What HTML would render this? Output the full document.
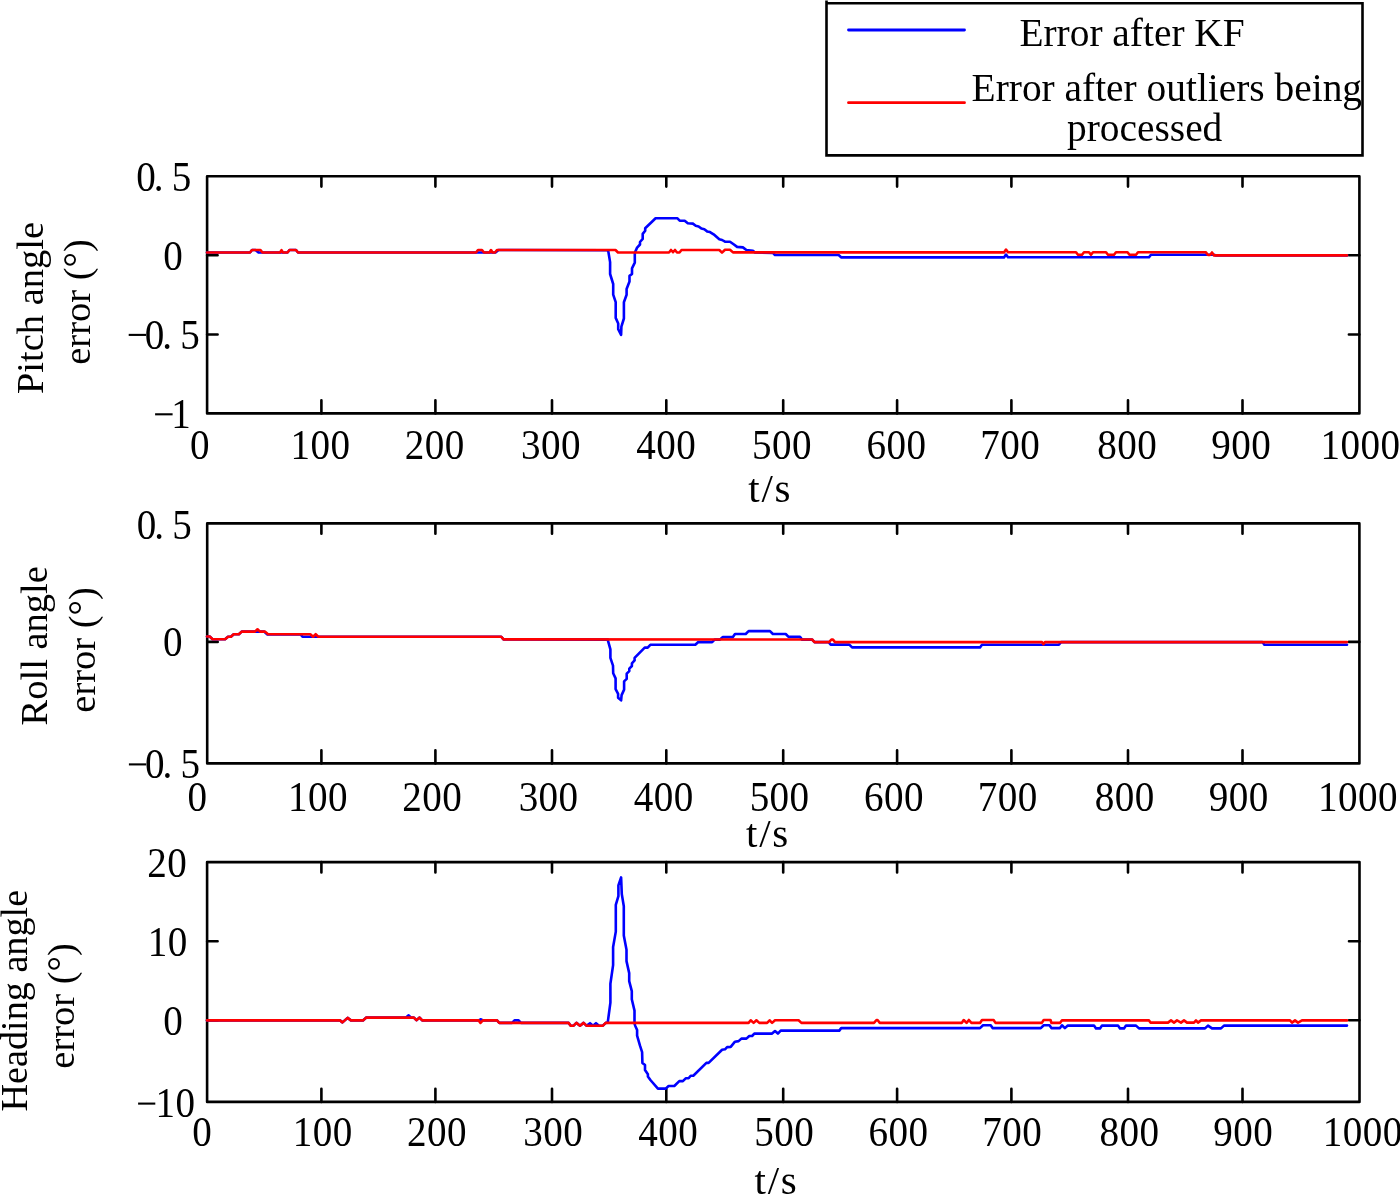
<!DOCTYPE html>
<html><head><meta charset="utf-8"><title>Attitude angle errors</title>
<style>html,body{margin:0;padding:0;background:#fff;}svg{display:block;will-change:transform;}text{font-family:"Liberation Serif",serif;fill:#000;}</style></head><body>
<svg width="1400" height="1196" viewBox="0 0 1400 1196">
<rect width="1400" height="1196" fill="#fff"/>
<path d="M321.4,413.4V400.2M321.4,176.3V186.6M435.4,413.4V400.2M435.4,176.3V186.6M552,413.4V400.2M552,176.3V186.6M666.3,413.4V400.2M666.3,176.3V186.6M783.2,413.4V400.2M783.2,176.3V186.6M897.1,413.4V400.2M897.1,176.3V186.6M1011.4,413.4V400.2M1011.4,176.3V186.6M1128,413.4V400.2M1128,176.3V186.6M1242.5,413.4V400.2M1242.5,176.3V186.6M207.1,255.3H217.6M1359.4,255.3H1348.9M207.1,334.5H217.6M1359.4,334.5H1348.9" stroke="#000" stroke-width="2.6" stroke-linecap="round" fill="none"/>
<rect x="207.1" y="176.3" width="1152.3" height="237.1" fill="none" stroke="#000" stroke-width="2.6" stroke-linejoin="round"/>
<path d="M321.4,763.4V750.2M321.4,523.4V533.7M435.4,763.4V750.2M435.4,523.4V533.7M552,763.4V750.2M552,523.4V533.7M666.3,763.4V750.2M666.3,523.4V533.7M783.2,763.4V750.2M783.2,523.4V533.7M897.1,763.4V750.2M897.1,523.4V533.7M1011.4,763.4V750.2M1011.4,523.4V533.7M1128,763.4V750.2M1128,523.4V533.7M1242.5,763.4V750.2M1242.5,523.4V533.7M207.2,641.9H217.7M1359.4,641.9H1348.9" stroke="#000" stroke-width="2.6" stroke-linecap="round" fill="none"/>
<rect x="207.2" y="523.4" width="1152.2" height="240" fill="none" stroke="#000" stroke-width="2.6" stroke-linejoin="round"/>
<path d="M321.4,1101.9V1088.7M321.4,862.1V872.4M435.4,1101.9V1088.7M435.4,862.1V872.4M552,1101.9V1088.7M552,862.1V872.4M666.3,1101.9V1088.7M666.3,862.1V872.4M783.2,1101.9V1088.7M783.2,862.1V872.4M897.1,1101.9V1088.7M897.1,862.1V872.4M1011.4,1101.9V1088.7M1011.4,862.1V872.4M1128,1101.9V1088.7M1128,862.1V872.4M1242.5,1101.9V1088.7M1242.5,862.1V872.4M207.1,941.2H217.6M1359.5,941.2H1349M207.1,1020.2H217.6M1359.5,1020.2H1349" stroke="#000" stroke-width="2.6" stroke-linecap="round" fill="none"/>
<rect x="207.1" y="862.1" width="1152.4" height="239.8" fill="none" stroke="#000" stroke-width="2.6" stroke-linejoin="round"/>
<g>
<path d="M207,252.5 L250,252.5 L252,250 L255.5,250 L258.5,252.5 L287.5,252.5 L289.5,250 L296,250 L298,252.5 L495.5,252.5 L498.5,250 L607,250.3 L608.2,250.8 L610.1,262.1 L610.1,274 L613.2,284 L613.2,294.7 L615.7,302.2 L615.7,317.9 L618.2,323.5 L618.2,329.2 L621.1,334.8 L621.4,326.6 L623.9,318.5 L623.9,302.2 L626.6,294.7 L626.6,289 L629.5,281.5 L629.5,275.9 L632,274 L632,268.3 L634.8,262.7 L634.8,252.7 L637.1,247.6 L640,244.5 L640,242 L642.7,238.9 L642.7,233.9 L645.2,230.7 L645.2,228.2 L655.6,218.2 L677.2,218.2 L679.7,220.7 L684.7,220.7 L687.8,223.2 L692.9,223.6 L695.7,225.7 L698.6,226.4 L701.4,228.6 L704.3,229.3 L707.1,231.4 L710,232.1 L713.6,234.3 L719.3,239.3 L722.1,240 L725,241.7 L730,241.7 L733.6,244.3 L737.1,246.9 L742.9,247.4 L746.4,250 L752.9,250.7 L755,252.5 L772.9,252.9 L775,255 L838.6,255 L841.4,257.4 L1004,257.4 L1006,254.5 L1008,257.3 L1149,257.3 L1151,254.7 L1214,254.7 L1216,255.4 L1347,255.4" fill="none" stroke="#0000ff" stroke-width="2.6" stroke-linejoin="round" stroke-linecap="round"/>
<path d="M207,252.5 L250,252.5 L252,250 L260.5,250 L262.5,252.5 L280,252.5 L281.5,250.2 L283,252.5 L287.5,252.5 L289.5,250 L296,250 L298,252.5 L476,252.5 L478,250 L482,250 L484,252.5 L489.5,252.5 L491,250 L492.5,252.5 L495,252.5 L497,250 L615.5,250 L618,252.5 L669,252.5 L671,250 L673,252.2 L675,250 L677,252.5 L679.5,252.5 L681.5,250 L719.3,250 L722,252.6 L725,249.7 L730,249.7 L733,252.4 L1004,252.4 L1006,249.5 L1008,252.2 L1076,252.2 L1078,254.8 L1082,254.8 L1084,252.2 L1089,252.2 L1091,254.8 L1093,252.2 L1106,252.2 L1108,254.8 L1114,254.8 L1116,252.2 L1127.5,252.2 L1129.5,254.8 L1136,254.8 L1138,252.2 L1205.7,252.2 L1208,255 L1210,255 L1212,252.5 L1214,255.4 L1347,255.4" fill="none" stroke="#ff0000" stroke-width="2.6" stroke-linejoin="round" stroke-linecap="round"/>
<path d="M207,636.5 L209.7,636.5 L212.6,639.2 L225.1,639.2 L228,636.7 L230.9,636.7 L233.7,634.2 L238.9,634.2 L241.7,631.6 L264,631.6 L267.4,634.4 L300.6,634.4 L302.5,636.7 L501.3,636.7 L503.5,639.4 L607.9,639.6 L607.9,640.3 L610.4,649.3 L610.4,657.9 L613,665.6 L613.2,673.3 L615.6,678.4 L615.6,689.1 L618.1,693.9 L618.1,697.7 L621.1,700.3 L621.6,695.1 L624.1,689.6 L624.1,681.4 L626.7,678.9 L626.7,673.7 L629.3,671.1 L629.3,668.6 L631.9,666 L631.9,663.4 L634.6,660.4 L634.6,657.9 L644.7,647.6 L647.7,647.6 L650.3,644.8 L695.3,644.8 L698.3,642 L712.1,642.1 L714.6,639.6 L720,639.6 L722.9,637.1 L732.9,637.1 L735,634 L745.7,634 L748.6,631.1 L770,631.1 L772.9,634 L785.7,634 L788.6,636.9 L800,636.9 L802.1,639.6 L812.1,639.6 L814.5,642.1 L828.6,642.1 L830.7,644.6 L849.3,644.6 L852.1,647.4 L980,647.4 L982,644.7 L1058.9,644.7 L1061,642.1 L1262.4,642.1 L1264.4,644.8 L1347,644.8" fill="none" stroke="#0000ff" stroke-width="2.6" stroke-linejoin="round" stroke-linecap="round"/>
<path d="M207,636.5 L209.7,636.5 L212.6,639.2 L225.1,639.2 L228,636.7 L230.9,636.7 L233.7,634.2 L238.9,634.2 L241.7,631.6 L254.9,631.6 L257.5,629.3 L260,631.6 L265.1,631.6 L268,634.2 L310.3,634.2 L313.1,636.7 L315.7,634.2 L318.3,636.7 L501.3,636.7 L503.5,639.4 L812.1,639.5 L814.5,642.1 L829,642.1 L831.4,639.6 L833,639.6 L835,642.1 L1042,642.1 L1043.4,644.2 L1045,642.1 L1347,642.1" fill="none" stroke="#ff0000" stroke-width="2.6" stroke-linejoin="round" stroke-linecap="round"/>
<path d="M207,1020.4 L339.9,1020.4 L342.5,1022.4 L347.6,1017.9 L350.9,1020.4 L363,1020.4 L366.3,1017.6 L406,1017.6 L408.7,1015.3 L411,1017.6 L413.9,1017.6 L416.4,1020.2 L419.6,1017.6 L422.2,1020.4 L478.6,1020.4 L481,1019.3 L483,1020.4 L497,1020.4 L499.3,1022.9 L512,1022.9 L514.5,1020.4 L518.6,1020.4 L521,1022.9 L568.6,1022.9 L570.7,1025.7 L573.6,1025.7 L576.4,1022.9 L580,1025.7 L583.6,1022.9 L586.4,1025.7 L590,1023.2 L593,1025.7 L596,1023.2 L599,1025.7 L602.9,1025.7 L605.7,1022.9 L607.7,1022.7 L610.4,1002.6 L610.4,983.8 L613.1,965.1 L613.1,947 L615.8,931.6 L615.8,904.8 L618.4,896.1 L618.4,885.4 L621.1,877.4 L621.8,894.1 L623.8,906.2 L623.8,935.6 L626.5,949.7 L626.5,961.1 L629.2,973.1 L629.2,981.2 L631.8,991.2 L631.8,999.2 L634.5,1010.6 L634.5,1023.6 L635.2,1025.7 L637.1,1030 L637.1,1035.7 L640,1045.7 L642.1,1052.1 L642.4,1062.9 L645,1065 L645,1070 L647.9,1074.3 L647.9,1076.4 L650.4,1080 L657.9,1088.6 L665.7,1088.6 L668.6,1086 L674.3,1086 L679.3,1081.1 L682.9,1081.1 L685.7,1078.3 L688.6,1078.3 L690.7,1075.7 L693.3,1075.7 L706.4,1062.9 L708.6,1062.9 L722.1,1049.7 L725,1049.3 L727.1,1047.1 L730.7,1046.9 L735,1041.7 L738.6,1041.1 L741.4,1038.6 L746.4,1038.6 L749.3,1036 L752.1,1036 L754.3,1033.6 L772.1,1033.6 L775,1031.1 L777.9,1033.6 L780.7,1030.6 L839.3,1030.6 L841.2,1028.1 L980,1028.1 L983,1025.3 L990.7,1025.3 L992.6,1028.1 L1040.8,1028.1 L1043.7,1025.3 L1049.5,1025.3 L1051.4,1028.1 L1060,1028.1 L1062,1025.3 L1064.9,1028.1 L1067.8,1025.5 L1094,1025.6 L1096,1028.4 L1100,1028.4 L1102,1025.6 L1118,1025.6 L1120,1028.4 L1124,1028.4 L1126,1025.6 L1136,1025.6 L1139,1028.4 L1205,1028.4 L1208,1025.6 L1212,1028.4 L1221,1028.4 L1224,1025.6 L1347,1025.6" fill="none" stroke="#0000ff" stroke-width="2.6" stroke-linejoin="round" stroke-linecap="round"/>
<path d="M207,1020.4 L339.9,1020.4 L342.5,1022.4 L347.6,1017.9 L350.9,1020.4 L363,1020.4 L366.3,1017.6 L413.9,1017.6 L416.4,1020.2 L419.6,1017.6 L422.2,1020.4 L478.6,1020.4 L480.5,1022.9 L482.9,1020.4 L497,1020.4 L499.3,1022.9 L568.6,1022.9 L570.7,1025.7 L573.6,1025.7 L576.4,1022.9 L580,1025.7 L583.6,1022.9 L586.4,1025.7 L602.9,1025.7 L605.7,1022.9 L748.6,1022.9 L750.7,1020.3 L753.6,1022.9 L756.4,1020.3 L759.3,1022.9 L767.1,1022.9 L769.6,1020.3 L772.1,1022.9 L775,1020.3 L798.6,1020.3 L801.4,1022.9 L874,1022.9 L876.5,1020 L877.5,1020 L879.8,1022.9 L961.8,1022.9 L963.7,1020 L966.6,1022.9 L968.9,1020 L971.4,1022.9 L980,1022.9 L982,1020 L993.6,1020 L995.5,1022.9 L1041.8,1022.9 L1043.7,1020 L1050.5,1020 L1051.4,1022.9 L1060,1022.9 L1062,1020.2 L1149,1020.4 L1150.5,1022.6 L1168,1022.6 L1171,1020.4 L1174,1022.6 L1177,1020.4 L1181,1022.6 L1184,1020.4 L1187,1022.6 L1194,1022.6 L1196,1020.4 L1198,1022.6 L1201,1020.4 L1290,1020.4 L1292,1022.6 L1295,1020.4 L1298,1022.6 L1302,1020.4 L1347,1020.4" fill="none" stroke="#ff0000" stroke-width="2.6" stroke-linejoin="round" stroke-linecap="round"/>
</g>
<g class="tl">
<text transform="scale(0.925 1)" x="205.38" y="458.9" font-size="42.3">0</text>
<text transform="scale(0.925 1)" x="314.03 335.65 357.27" y="458.9" font-size="42.3">100</text>
<text transform="scale(0.925 1)" x="437.55 459.17 480.79" y="458.9" font-size="42.3">200</text>
<text transform="scale(0.925 1)" x="563.38 585 606.63" y="458.9" font-size="42.3">300</text>
<text transform="scale(0.925 1)" x="687.74 709.36 730.98" y="458.9" font-size="42.3">400</text>
<text transform="scale(0.925 1)" x="813.11 834.73 856.36" y="458.9" font-size="42.3">500</text>
<text transform="scale(0.925 1)" x="936.68 958.3 979.92" y="458.9" font-size="42.3">600</text>
<text transform="scale(0.925 1)" x="1059.62 1081.25 1102.87" y="458.9" font-size="42.3">700</text>
<text transform="scale(0.925 1)" x="1186.25 1207.87 1229.49" y="458.9" font-size="42.3">800</text>
<text transform="scale(0.925 1)" x="1309.36 1330.98 1352.6" y="458.9" font-size="42.3">900</text>
<text transform="scale(0.925 1)" x="1427.54 1449.16 1470.78 1492.41" y="458.9" font-size="42.3">1000</text>
<text transform="scale(0.925 1)" x="202.68" y="811.1" font-size="42.3">0</text>
<text transform="scale(0.925 1)" x="311.32 332.95 354.57" y="811.1" font-size="42.3">100</text>
<text transform="scale(0.925 1)" x="434.84 456.46 478.09" y="811.1" font-size="42.3">200</text>
<text transform="scale(0.925 1)" x="560.68 582.3 603.92" y="811.1" font-size="42.3">300</text>
<text transform="scale(0.925 1)" x="685.03 706.66 728.28" y="811.1" font-size="42.3">400</text>
<text transform="scale(0.925 1)" x="810.41 832.03 853.65" y="811.1" font-size="42.3">500</text>
<text transform="scale(0.925 1)" x="933.98 955.6 977.22" y="811.1" font-size="42.3">600</text>
<text transform="scale(0.925 1)" x="1056.92 1078.54 1100.16" y="811.1" font-size="42.3">700</text>
<text transform="scale(0.925 1)" x="1183.55 1205.17 1226.79" y="811.1" font-size="42.3">800</text>
<text transform="scale(0.925 1)" x="1306.66 1328.28 1349.9" y="811.1" font-size="42.3">900</text>
<text transform="scale(0.925 1)" x="1424.84 1446.46 1468.08 1489.7" y="811.1" font-size="42.3">1000</text>
<text transform="scale(0.925 1)" x="207.76" y="1145.9" font-size="42.3">0</text>
<text transform="scale(0.925 1)" x="316.41 338.03 359.65" y="1145.9" font-size="42.3">100</text>
<text transform="scale(0.925 1)" x="439.92 461.55 483.17" y="1145.9" font-size="42.3">200</text>
<text transform="scale(0.925 1)" x="565.76 587.38 609" y="1145.9" font-size="42.3">300</text>
<text transform="scale(0.925 1)" x="690.12 711.74 733.36" y="1145.9" font-size="42.3">400</text>
<text transform="scale(0.925 1)" x="815.49 837.11 858.73" y="1145.9" font-size="42.3">500</text>
<text transform="scale(0.925 1)" x="939.06 960.68 982.3" y="1145.9" font-size="42.3">600</text>
<text transform="scale(0.925 1)" x="1062 1083.62 1105.25" y="1145.9" font-size="42.3">700</text>
<text transform="scale(0.925 1)" x="1188.63 1210.25 1231.87" y="1145.9" font-size="42.3">800</text>
<text transform="scale(0.925 1)" x="1311.74 1333.36 1354.98" y="1145.9" font-size="42.3">900</text>
<text transform="scale(0.925 1)" x="1429.92 1451.54 1473.16 1494.78" y="1145.9" font-size="42.3">1000</text>
</g>
<g class="tl">
<text transform="scale(0.925 1)" x="147.4 166.36 185.77" y="190.75" font-size="42.3">0.5</text>
<text transform="scale(0.925 1)" x="176.42" y="269.9" font-size="42.3">0</text>
<line x1="128.7" y1="334.9" x2="146" y2="334.9" stroke="#000" stroke-width="2.1"/>
<text transform="scale(0.925 1)" x="156.42 175.39 194.8" y="348.9" font-size="42.3">0.5</text>
<line x1="155.1" y1="414.3" x2="172.6" y2="414.3" stroke="#000" stroke-width="2.1"/>
<text transform="scale(0.925 1)" x="185.28" y="427.9" font-size="42.3">1</text>
<text transform="scale(0.925 1)" x="147.88 166.85 186.26" y="538.8" font-size="42.3">0.5</text>
<text transform="scale(0.925 1)" x="176.1" y="656.5" font-size="42.3">0</text>
<line x1="128.9" y1="764.4" x2="146.2" y2="764.4" stroke="#000" stroke-width="2.1"/>
<text transform="scale(0.925 1)" x="156.64 175.61 195.02" y="778.3" font-size="42.3">0.5</text>
<text transform="scale(0.925 1)" x="159.13 180.75" y="877.1" font-size="42.3">20</text>
<text transform="scale(0.925 1)" x="159.77 181.39" y="956.4" font-size="42.3">10</text>
<text transform="scale(0.925 1)" x="176.42" y="1035.1" font-size="42.3">0</text>
<line x1="138.1" y1="1103.6" x2="155.3" y2="1103.6" stroke="#000" stroke-width="2.1"/>
<text transform="scale(0.925 1)" x="168.09 189.71" y="1117.4" font-size="42.3">10</text>
</g>
<text x="748.3 761.5 774.5" y="502.4" font-size="41">t/s</text>
<text x="746.1 759.3 772.3" y="846.7" font-size="41">t/s</text>
<text x="754.6 767.8 780.8" y="1194" font-size="41">t/s</text>
<text transform="translate(42.8 308) rotate(-90)" text-anchor="middle" font-size="38.5">Pitch angle</text>
<text transform="translate(90.2 302) rotate(-90)" text-anchor="middle" font-size="38.5">error (&#176;)</text>
<text transform="translate(47.1 645.8) rotate(-90)" text-anchor="middle" font-size="38.5">Roll angle</text>
<text transform="translate(95.3 649.9) rotate(-90)" text-anchor="middle" font-size="38.5">error (&#176;)</text>
<text transform="translate(27.2 1000.7) rotate(-90)" text-anchor="middle" font-size="38.2">Heading angle</text>
<text transform="translate(74.2 1005.9) rotate(-90)" text-anchor="middle" font-size="38.5">error (&#176;)</text>
<g>
<path d="M826.5,0.5V155.4H1362.5V3.2H826.5" fill="none" stroke="#000" stroke-width="2.6" stroke-linejoin="miter"/>
<line x1="848.5" y1="30" x2="964.5" y2="30" stroke="#0000ff" stroke-width="2.8" stroke-linecap="round"/>
<line x1="848.5" y1="102.7" x2="964.5" y2="102.7" stroke="#ff0000" stroke-width="2.8" stroke-linecap="round"/>
<text x="1019.4" y="45.7" font-size="39.4">Error after KF</text>
<text x="971.6" y="101.3" font-size="39.4">Error after outliers being</text>
<text x="1067" y="140.5" font-size="39.4">processed</text>
</g>
</svg>
</body></html>
